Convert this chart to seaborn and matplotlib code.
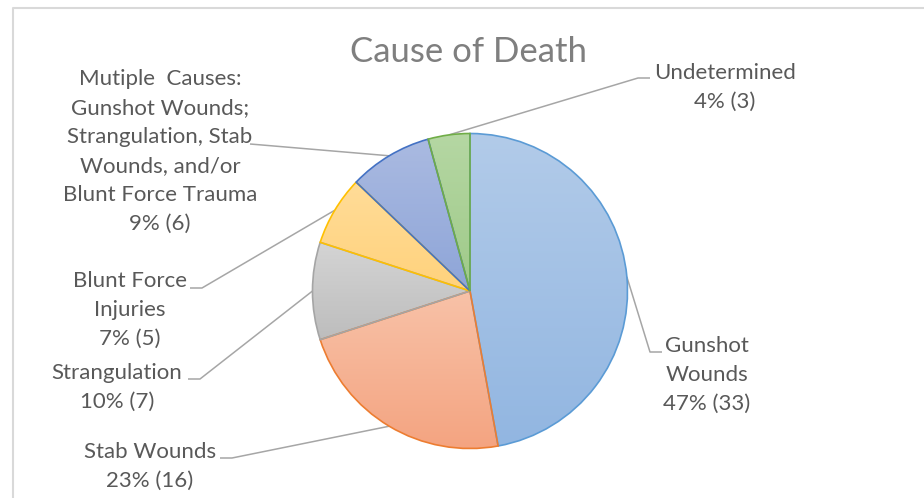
"""
Cause of Death pie chart with call-out labels and leader lines.
"""

import numpy as np
import matplotlib
matplotlib.use("Agg")
import matplotlib.pyplot as plt
import seaborn as sns

# data
causes = [
    "Gunshot\nWounds",
    "Stab Wounds",
    "Strangulation",
    "Blunt Force\nInjuries",
    "Mutiple  Causes:\nGunshot Wounds;\nStrangulation, Stab\nWounds, and/or\nBlunt Force Trauma",
    "Undetermined",
]
counts = [33, 16, 7, 5, 6, 3]

# styling (gradient top, gradient bottom, outline)
fill_top = ["#B2CBE9", "#F8C2A8", "#D4D4D4", "#FFDC98", "#AABAE1", "#B5D7A3"]
fill_bottom = ["#92B6E1", "#F4A481", "#BDBDBD", "#FFD27C", "#8EA5D8", "#9FCA89"]
outline = ["#5B9BD5", "#ED7D31", "#A5A5A5", "#FFC000", "#4472C4", "#70AD47"]

# label layout in pixels: text centre, elbow, end of leader
label_xy = [(707, 375), (150, 466), (117, 387.5), (130, 310), (160, 151.5), (725, 87)]
elbow_xy = [(650, 352), (232, 458), (200, 379), (202, 288), (262, 145), (638, 78)]
end_xy = [(662, 352), (220, 458), (188, 379), (190, 288), (250, 144), (650, 78)]

W, H = 924, 498
CX, CY, R = 470, 291, 157.5


def py(y):
    # pixel row -> data y
    return H - y


sns.set_theme(style="white")
plt.rcParams["font.family"] = ["Lato", "DejaVu Sans"]

fig = plt.figure(figsize=(W / 100, H / 100), dpi=100)
ax = fig.add_axes([0, 0, 1, 1])

wedges, _ = ax.pie(
    counts,
    center=(CX, py(CY)),
    radius=R,
    startangle=90,
    counterclock=False,
    wedgeprops={"linewidth": 1.2},
)

total = sum(counts)
for i, w in enumerate(wedges):
    w.set_facecolor("none")
    w.set_edgecolor(outline[i])
    w.set_zorder(3)
    ext = w.get_path().get_extents()
    grad = np.array(sns.blend_palette([fill_top[i], fill_bottom[i]], 128))[:, None, :]
    ax.imshow(
        grad,
        extent=(ext.x0, ext.x1, ext.y0, ext.y1),
        origin="upper",
        aspect="auto",
        interpolation="bilinear",
        zorder=2,
        clip_path=w,
    )

    # leader line from wedge mid-rim to label
    mid = np.deg2rad((w.theta1 + w.theta2) / 2)
    ax_x = CX + R * np.cos(mid)
    ax_y = py(CY) + R * np.sin(mid)
    ex, ey = elbow_xy[i]
    fx, fy = end_xy[i]
    ax.plot([ax_x, ex, fx], [ax_y, py(ey), py(fy)], color="#A6A6A6", lw=1.1, zorder=1,
            solid_capstyle="butt")

    pct = round(counts[i] / total * 100)
    lx, ly = label_xy[i]
    ax.text(lx, py(ly), f"{causes[i]}\n{pct}% ({counts[i]})", ha="center", va="center",
            multialignment="center", fontsize=16, color="#595959", linespacing=1.56)

ax.text(468, py(52), "Cause of Death", ha="center", va="center", fontsize=25, color="#7F7F7F")

# chart frame
ax.plot([12.5, 12.5, W + 5], [-5, py(7.5), py(7.5)], color="#D9D9D9", lw=1.5, zorder=0)

ax.set_xlim(0, W)
ax.set_ylim(0, H)
ax.set_aspect("equal")
ax.axis("off")

fig.savefig("out.png", dpi=100, facecolor="white")
plt.close(fig)
